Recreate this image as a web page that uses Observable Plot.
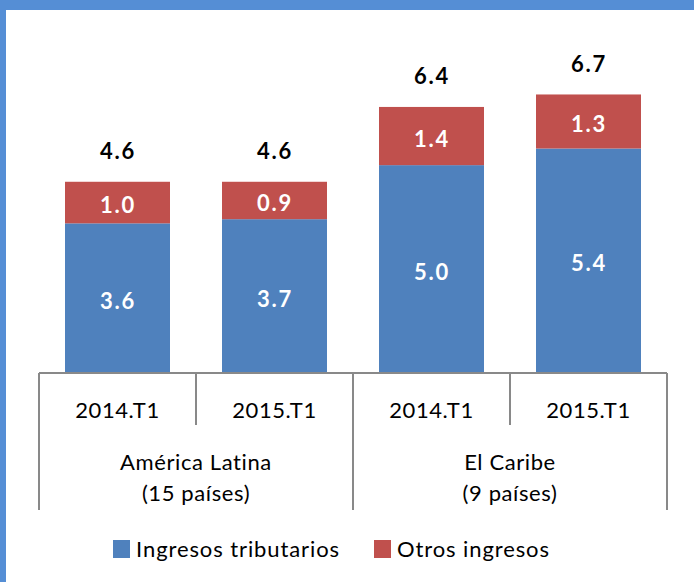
<!DOCTYPE html>
<html><head><meta charset="utf-8">
<script src="https://cdn.jsdelivr.net/npm/d3@7"></script>
<script src="https://cdn.jsdelivr.net/npm/@observablehq/plot@0.6"></script>
<style>
html,body{margin:0;padding:0;background:#fff;}
#frame{width:688px;height:572px;border-top:10px solid #558ED5;border-left:6px solid #558ED5;position:relative;font-family:Lato,sans-serif;overflow:hidden;}
#chart svg{display:block;}
#legend{height:67px;display:flex;justify-content:center;align-items:center;font-size:22px;letter-spacing:0.9px;color:#000;padding-right:37px;}
.item{display:flex;align-items:center;margin:0 17px;}
.sw{width:17px;height:18px;margin-right:6px;}
</style></head><body><div id="frame"><div id="chart"></div><div id="legend"></div></div>
<script>
const grupos = ["América Latina", "El Caribe"];
const paises = ["(15 países)", "(9 países)"];
const periodos = ["2014.T1", "2015.T1", "2014.T1", "2015.T1"];
const grupoDe = [0, 0, 1, 1];
const tributarios = [3.6, 3.7, 5.0, 5.4];
const otros = [1.0, 0.9, 1.4, 1.3];
const totales = [4.6, 4.6, 6.4, 6.7];
const series = ["Ingresos tributarios", "Otros ingresos"];
const colores = ["#4F81BD", "#C0504D"];

const keys = periodos.map((p, i) => grupos[grupoDe[i]] + " " + p);
const data = [];
keys.forEach((k, i) => {
  data.push({key: k, serie: series[0], valor: tributarios[i]});
  data.push({key: k, serie: series[1], valor: otros[i]});
});
const tot = keys.map((k, i) => ({key: k, total: totales[i]}));

const W = 688, H = 505;
const plot = Plot.plot({
  width: W, height: H,
  marginLeft: 31, marginRight: 24, marginTop: 72, marginBottom: 142,
  style: {fontFamily: "Lato, sans-serif", background: "white"},
  x: {domain: keys, paddingInner: 0.33, paddingOuter: 0.17, axis: null},
  y: {domain: [0, 7], axis: null},
  color: {domain: series, range: colores},
  marks: [
    Plot.barY(data, {x: "key", y: "valor", fill: "serie", order: series}),
    Plot.text(data, Plot.stackY({x: "key", y: "valor", z: "serie", order: series,
      text: d => d.valor.toFixed(1), fill: "white", fontWeight: "bold", fontSize: 22, dy: 3})),
    Plot.text(tot, {x: "key", y: "total", text: d => d.total.toFixed(1), dy: -30,
      fill: "black", fontWeight: "bold", fontSize: 22})
  ]
});
document.getElementById("chart").appendChild(plot);
d3.select(plot).selectAll("text").style("letter-spacing", "1.8px");

// category table below the axis, positioned with Plot's x scale
const xs = plot.scale("x");
const svg = d3.select(plot);
const step = xs.step, bw = xs.bandwidth, gap = (step - bw) / 2;
const base = H - 142;
const starts = keys.map(k => xs.apply(k) - gap);
const bounds = [...starts, starts[starts.length - 1] + step];
const g = svg.append("g").attr("stroke", "#898989").attr("stroke-width", 2);
g.append("line").attr("x1", bounds[0]).attr("x2", bounds[bounds.length - 1]).attr("y1", base).attr("y2", base);
bounds.forEach((b, i) => {
  const longLine = (i === 0 || i === bounds.length - 1 || grupoDe[i] !== grupoDe[i - 1]);
  g.append("line").attr("x1", b).attr("x2", b).attr("y1", base).attr("y2", longLine ? base + 137 : base + 52);
});
const t = svg.append("g").attr("font-family", "Lato, sans-serif").attr("font-size", 22)
  .attr("fill", "#000").attr("text-anchor", "middle").style("letter-spacing", "0.6px");
keys.forEach((k, i) => {
  t.append("text").attr("x", xs.apply(k) + bw / 2).attr("y", base + 37).attr("dy", "0.35em").text(periodos[i]);
});
grupos.forEach((gname, j) => {
  const idx = grupoDe.map((v, i) => v === j ? i : -1).filter(i => i >= 0);
  const x0 = starts[idx[0]], x1 = starts[idx[idx.length - 1]] + step;
  const cx = (x0 + x1) / 2;
  t.append("text").attr("x", cx).attr("y", base + 89).attr("dy", "0.35em").text(gname);
  t.append("text").attr("x", cx).attr("y", base + 120).attr("dy", "0.35em").text(paises[j]);
});

// legend
const lg = document.getElementById("legend");
series.forEach((s, i) => {
  const it = document.createElement("div"); it.className = "item";
  const sw = document.createElement("div"); sw.className = "sw"; sw.style.background = colores[i];
  const tx = document.createElement("span"); tx.textContent = s;
  it.appendChild(sw); it.appendChild(tx); lg.appendChild(it);
});
</script></body></html>
